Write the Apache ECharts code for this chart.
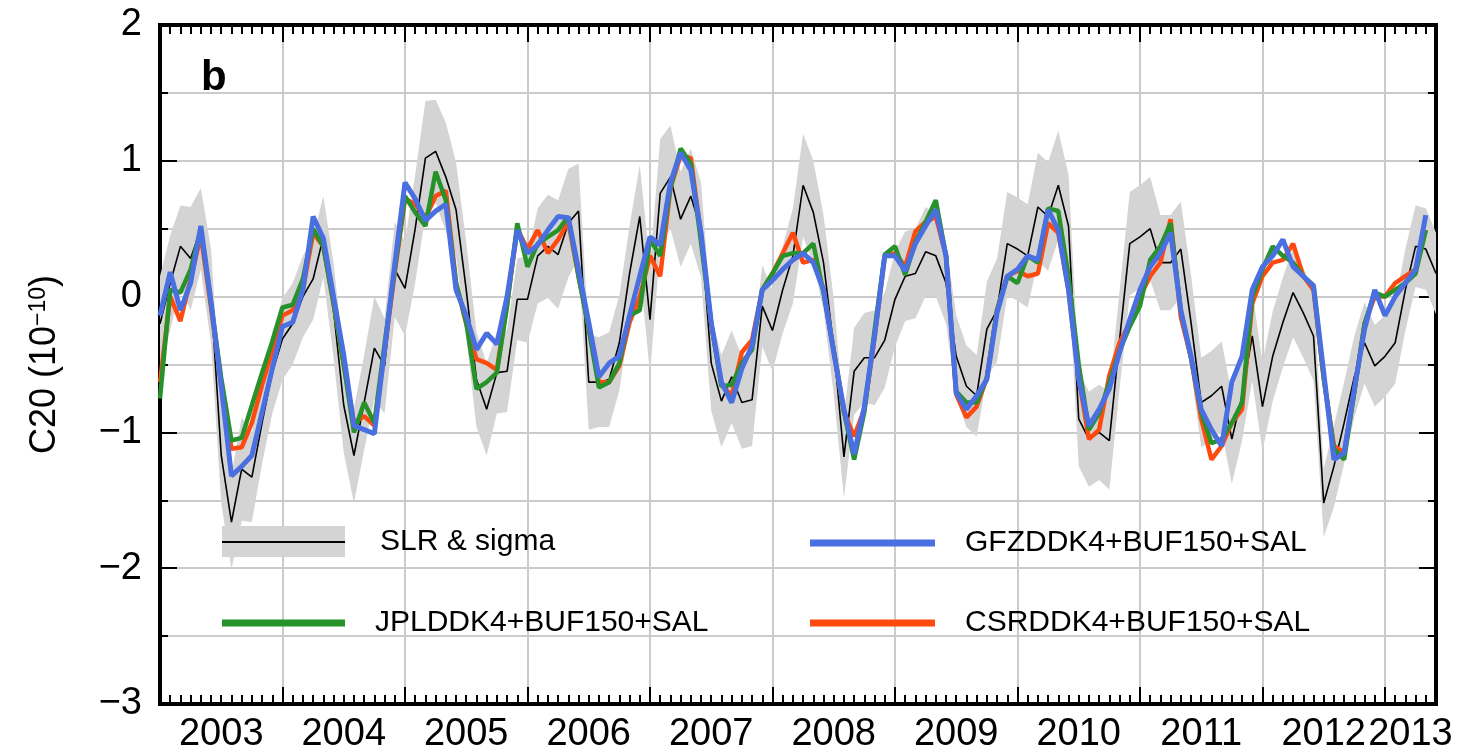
<!DOCTYPE html>
<html>
<head>
<meta charset="utf-8">
<script src="https://cdn.jsdelivr.net/npm/echarts@6/dist/echarts.min.js"></script>
<style>html,body{margin:0;padding:0;background:#fff;}#chart{width:1459px;height:755px;}</style>
</head>
<body>
<div id="chart"></div>
<script>
// ---- data (monthly, starting Jan 2003) ----
const startYear = 2003;
const slr = [-0.2,0.1,0.37,0.28,0.5,0.0,-1.17,-1.66,-1.27,-1.33,-0.93,-0.56,
  -0.31,-0.2,0.0,0.13,0.44,-0.1,-0.8,-1.17,-0.78,-0.38,-0.51,0.2,
  0.06,0.5,1.02,1.07,0.88,0.64,0.05,-0.61,-0.83,-0.56,-0.55,-0.02,
  -0.02,0.3,0.37,0.31,0.54,0.63,-0.63,-0.63,-0.61,-0.34,0.17,0.59,
  -0.17,0.76,0.88,0.57,0.74,0.49,-0.49,-0.77,-0.59,-0.78,-0.76,-0.07,
  -0.25,0.05,0.3,0.82,0.62,0.25,-0.37,-1.18,-0.55,-0.45,-0.45,-0.32,
  -0.02,0.15,0.17,0.33,0.3,0.1,-0.44,-0.66,-0.73,-0.24,-0.1,0.39,
  0.35,0.3,0.66,0.59,0.82,0.52,-0.9,-1.05,-1.0,-1.06,-0.32,0.39,
  0.44,0.5,0.25,0.25,0.35,-0.19,-0.78,-0.73,-0.66,-1.05,-0.73,-0.29,
  -0.81,-0.44,-0.19,0.03,-0.12,-0.29,-1.52,-1.25,-0.93,-0.59,-0.34,-0.51,
  -0.44,-0.34,0.05,0.37,0.35,0.17];
const sigma = [0.35,0.35,0.3,0.38,0.3,0.35,0.35,0.35,0.38,0.33,0.3,0.3,
  0.3,0.3,0.3,0.3,0.3,0.35,0.35,0.35,0.35,0.38,0.35,0.35,
  0.35,0.4,0.42,0.38,0.4,0.35,0.35,0.35,0.34,0.3,0.3,0.3,
  0.32,0.35,0.38,0.4,0.4,0.35,0.35,0.33,0.35,0.35,0.35,0.38,
  0.4,0.4,0.38,0.35,0.35,0.35,0.35,0.34,0.34,0.34,0.34,0.3,
  0.3,0.32,0.35,0.38,0.38,0.35,0.35,0.3,0.32,0.33,0.35,0.35,
  0.35,0.33,0.33,0.33,0.3,0.3,0.3,0.3,0.3,0.35,0.38,0.38,
  0.38,0.38,0.4,0.4,0.4,0.38,0.35,0.35,0.35,0.36,0.36,0.38,
  0.38,0.38,0.35,0.35,0.35,0.35,0.33,0.33,0.33,0.33,0.33,0.33,
  0.33,0.33,0.33,0.33,0.33,0.33,0.25,0.3,0.3,0.3,0.3,0.3,
  0.3,0.3,0.3,0.3,0.3,0.3];
const gfz = [-0.14,0.18,-0.1,0.1,0.52,-0.04,-0.66,-1.32,-1.25,-1.17,-0.85,-0.53,
  -0.22,-0.19,0.05,0.59,0.43,0.0,-0.43,-0.95,-0.98,-1.01,-0.39,0.24,
  0.84,0.72,0.56,0.63,0.68,0.05,-0.14,-0.39,-0.27,-0.35,0.0,0.49,
  0.32,0.38,0.49,0.59,0.58,0.2,-0.19,-0.59,-0.49,-0.44,-0.14,0.15,
  0.44,0.38,0.84,1.06,0.93,0.47,-0.19,-0.63,-0.78,-0.53,-0.36,0.05,
  0.12,0.2,0.27,0.32,0.25,0.05,-0.41,-0.83,-1.16,-0.81,-0.29,0.3,
  0.3,0.19,0.39,0.52,0.64,0.3,-0.71,-0.83,-0.73,-0.61,-0.12,0.15,
  0.2,0.3,0.27,0.64,0.49,0.05,-0.61,-0.95,-0.83,-0.68,-0.41,-0.17,
  0.05,0.22,0.32,0.47,-0.1,-0.44,-0.83,-0.98,-1.1,-0.63,-0.44,0.05,
  0.22,0.3,0.42,0.22,0.15,0.08,-0.56,-1.2,-1.15,-0.68,-0.24,0.05,
  -0.14,0.0,0.1,0.2,0.6];
const jpl = [-0.75,0.05,0.03,0.2,0.5,-0.05,-0.6,-1.06,-1.04,-0.8,-0.56,-0.33,
  -0.08,-0.06,0.13,0.5,0.37,-0.05,-0.5,-1.0,-0.78,-0.93,-0.35,0.2,
  0.74,0.62,0.52,0.92,0.71,0.1,-0.19,-0.68,-0.63,-0.56,-0.07,0.54,
  0.22,0.39,0.44,0.49,0.59,0.15,-0.24,-0.67,-0.63,-0.49,-0.14,-0.1,
  0.42,0.3,0.8,1.09,0.98,0.4,-0.2,-0.66,-0.65,-0.49,-0.39,0.05,
  0.17,0.3,0.32,0.32,0.39,0.03,-0.4,-0.85,-1.2,-0.85,-0.25,0.31,
  0.37,0.16,0.4,0.55,0.71,0.3,-0.7,-0.78,-0.78,-0.6,-0.1,0.15,
  0.1,0.3,0.25,0.65,0.63,0.15,-0.5,-0.98,-0.86,-0.63,-0.4,-0.22,
  -0.07,0.27,0.37,0.54,-0.1,-0.45,-0.85,-1.08,-1.05,-0.93,-0.78,0.0,
  0.2,0.37,0.3,0.25,0.15,0.08,-0.6,-1.12,-1.2,-0.7,-0.2,0.03,
  0.0,0.05,0.1,0.17,0.49];
const csr = [-0.63,0.0,-0.18,0.13,0.45,-0.08,-0.65,-1.12,-1.11,-0.93,-0.65,-0.4,
  -0.14,-0.1,0.05,0.47,0.37,-0.05,-0.5,-0.93,-0.88,-0.95,-0.4,0.18,
  0.72,0.68,0.58,0.74,0.78,0.1,-0.2,-0.46,-0.49,-0.54,-0.05,0.5,
  0.35,0.49,0.32,0.42,0.55,0.15,-0.22,-0.63,-0.63,-0.51,-0.19,0.0,
  0.3,0.15,0.8,1.04,1.02,0.45,-0.2,-0.65,-0.73,-0.41,-0.32,0.05,
  0.17,0.32,0.47,0.25,0.27,0.05,-0.4,-0.85,-1.03,-0.83,-0.3,0.3,
  0.32,0.22,0.48,0.55,0.59,0.3,-0.72,-0.89,-0.81,-0.6,-0.1,0.15,
  0.19,0.15,0.17,0.54,0.47,0.05,-0.6,-1.05,-0.98,-0.58,-0.34,-0.19,
  0.0,0.15,0.25,0.57,-0.15,-0.45,-0.9,-1.2,-1.1,-0.93,-0.83,-0.05,
  0.15,0.25,0.27,0.39,0.15,0.05,-0.6,-1.1,-1.15,-0.7,-0.2,0.0,
  0.0,0.1,0.15,0.2,0.49];
const yearLabels = [2003,2004,2005,2006,2007,2008,2009,2010,2011,2012,2013];
const yMin = -3, yMax = 2;

// ---- helpers ----
const t = i => startYear + i / 12;
const xMax = t(slr.length - 1);
const pairs = arr => arr.map((v, i) => [t(i), v]);
const monthTicks = [];
for (let i = 1; i < slr.length - 1; i++) monthTicks.push(t(i));
const labelPos = yearLabels.map(y => (y + Math.min(y + 1, xMax)) / 2);

const FONT = 'Liberation Sans, Arial, Helvetica, sans-serif';
const GRID = '#cbcbcb';

const chart = echarts.init(document.getElementById('chart'), null, {renderer: 'canvas'});

const yearAxis = (pos, withLabels) => ({
  type: 'value', position: pos, min: startYear, max: xMax, interval: 1,
  axisLine: {show: true, onZero: false, lineStyle: {color: '#000', width: 4, cap: 'square'}},
  axisTick: {show: true, inside: true, length: 17, lineStyle: {color: '#000', width: 2}},
  splitLine: {show: pos === 'bottom', lineStyle: {color: GRID, width: 2}},
  axisLabel: withLabels ? {
    show: true, customValues: labelPos, margin: 12,
    formatter: v => String(Math.floor(v + 1e-6)),
    fontFamily: FONT, fontSize: 38, color: '#000'
  } : {show: false}
});
const monthAxis = pos => ({
  type: 'value', position: pos, min: startYear, max: xMax,
  axisLine: {show: false, onZero: false},
  axisTick: {show: true, inside: true, length: 9, customValues: monthTicks, lineStyle: {color: '#000', width: 2}},
  splitLine: {show: false}, axisLabel: {show: false}
});

const option = {
  animation: false,
  backgroundColor: '#fff',
  grid: {left: 160, right: 23, top: 25, bottom: 51, containLabel: false},
  xAxis: [yearAxis('bottom', true), monthAxis('bottom'), yearAxis('top', false), monthAxis('top')],
  yAxis: [
    {
      type: 'value', position: 'left', min: yMin, max: yMax, interval: 1,
      name: 'C20 (10{sup|\u221210})', nameLocation: 'middle', nameRotate: 90, nameGap: 96,
      nameTextStyle: {fontFamily: FONT, fontSize: 36, color: '#000',
        rich: {sup: {fontFamily: FONT, fontSize: 23, color: '#000', verticalAlign: 'top', padding: [0, 0, 14, 0]}}},
      axisLine: {show: true, onZero: false, lineStyle: {color: '#000', width: 4, cap: 'square'}},
      axisTick: {show: true, inside: true, length: 17, lineStyle: {color: '#000', width: 2}},
      minorTick: {show: true, splitNumber: 2, length: 8, lineStyle: {color: '#000', width: 2}},
      splitLine: {show: true, lineStyle: {color: GRID, width: 2}},
      minorSplitLine: {show: true, lineStyle: {color: GRID, width: 2}},
      axisLabel: {margin: 18, fontFamily: FONT, fontSize: 38, color: '#000',
        formatter: v => String(v).replace('-', '\u2212')}
    },
    {
      type: 'value', position: 'right', min: yMin, max: yMax, interval: 1,
      axisLine: {show: true, onZero: false, lineStyle: {color: '#000', width: 4, cap: 'square'}},
      axisTick: {show: true, inside: true, length: 17, lineStyle: {color: '#000', width: 2}},
      minorTick: {show: true, splitNumber: 2, length: 8, lineStyle: {color: '#000', width: 2}},
      splitLine: {show: false}, axisLabel: {show: false}
    }
  ],
  series: [
    {
      type: 'custom', name: 'SLR sigma', xAxisIndex: 0, yAxisIndex: 0, z: 1, silent: true, clip: true,
      data: [[t(0), slr[0]]],
      renderItem: (params, api) => {
        const pts = [];
        for (let i = 0; i < slr.length; i++) pts.push(api.coord([t(i), slr[i] + sigma[i]]));
        for (let i = slr.length - 1; i >= 0; i--) pts.push(api.coord([t(i), slr[i] - sigma[i]]));
        return {type: 'polygon', shape: {points: pts}, style: {fill: '#d4d4d4', stroke: null}};
      }
    },
    {type: 'line', name: 'SLR', data: pairs(slr), showSymbol: false, z: 3, silent: true,
      lineStyle: {color: '#000', width: 1.6}},
    {type: 'line', name: 'CSR', data: pairs(csr), showSymbol: false, z: 4, silent: true,
      lineStyle: {color: '#ff4a0f', width: 4.5}},
    {type: 'line', name: 'JPL', data: pairs(jpl), showSymbol: false, z: 5, silent: true,
      lineStyle: {color: '#27912a', width: 4.5}},
    {type: 'line', name: 'GFZ', data: pairs(gfz), showSymbol: false, z: 6, silent: true,
      lineStyle: {color: '#4a6fe0', width: 5}}
  ],
  graphic: [
    {type: 'text', left: 201, top: 57, z: 100, style: {text: 'b', fontFamily: FONT, fontWeight: 'bold', fontSize: 42, fill: '#000'}},
    {type: 'rect', z: 100, shape: {x: 222, y: 526, width: 123, height: 31}, style: {fill: '#d4d4d4'}},
    {type: 'line', z: 101, shape: {x1: 222, y1: 542, x2: 345, y2: 542}, style: {stroke: '#000', lineWidth: 2}},
    {type: 'text', z: 101, x: 380, y: 542, style: {text: 'SLR & sigma', fontFamily: FONT, fontSize: 30, fill: '#000', verticalAlign: 'middle'}},
    {type: 'line', z: 101, shape: {x1: 810, y1: 543, x2: 935, y2: 543}, style: {stroke: '#4a6fe0', lineWidth: 7}},
    {type: 'text', z: 101, x: 965, y: 543, style: {text: 'GFZDDK4+BUF150+SAL', fontFamily: FONT, fontSize: 30, fill: '#000', verticalAlign: 'middle'}},
    {type: 'line', z: 101, shape: {x1: 222, y1: 623, x2: 345, y2: 623}, style: {stroke: '#27912a', lineWidth: 7}},
    {type: 'text', z: 101, x: 375, y: 623, style: {text: 'JPLDDK4+BUF150+SAL', fontFamily: FONT, fontSize: 30, fill: '#000', verticalAlign: 'middle'}},
    {type: 'line', z: 101, shape: {x1: 810, y1: 623, x2: 935, y2: 623}, style: {stroke: '#ff4a0f', lineWidth: 7}},
    {type: 'text', z: 101, x: 965, y: 623, style: {text: 'CSRDDK4+BUF150+SAL', fontFamily: FONT, fontSize: 30, fill: '#000', verticalAlign: 'middle'}}
  ]
};
chart.setOption(option);
</script>
</body>
</html>
